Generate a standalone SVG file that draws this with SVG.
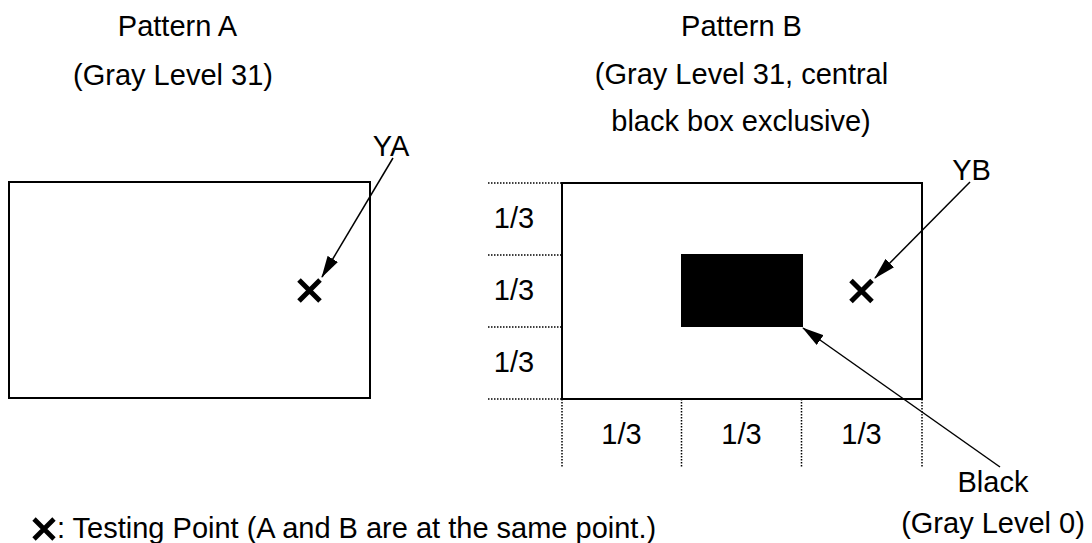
<svg xmlns="http://www.w3.org/2000/svg" xmlns:xlink="http://www.w3.org/1999/xlink" width="1092" height="543" viewBox="0 0 1092 543">
  <style>
    text { font-family: "Liberation Sans", Arial, sans-serif; font-size: 29px; fill: #000; }
    .c { text-anchor: middle; }
    .frame { fill: #fff; stroke: #000; stroke-width: 2; }
    .dot { stroke: #000; stroke-width: 1.5; stroke-dasharray: 1.5 1.5; fill: none; }
    .arrow { stroke: #000; stroke-width: 1.5; fill: none; marker-end: url(#head); }
    .x { stroke: #000; stroke-width: 5; fill: none; }
  </style>
  <defs>
    <marker id="head" markerUnits="userSpaceOnUse" viewBox="0 0 22 12" refX="21" refY="6" markerWidth="22" markerHeight="12" orient="auto">
      <path d="M0,0 L22,6 L0,12 z" fill="#000"/>
    </marker>
    <path id="cross" class="x" d="M-10.5,-10.5 L10.5,10.5 M10.5,-10.5 L-10.5,10.5"/>
  </defs>
  <rect width="1092" height="543" fill="#fff"/>

  <g id="titleA">
    <text class="c" x="177.5" y="36">Pattern A</text>
    <text class="c" x="173" y="85">(Gray Level 31)</text>
  </g>
  <g id="titleB">
    <text class="c" x="741.5" y="36">Pattern B</text>
    <text class="c" x="741.5" y="84">(Gray Level 31, central</text>
    <text class="c" x="741" y="131">black box exclusive)</text>
  </g>

  <g id="patternA">
    <rect class="frame" x="9" y="182" width="361" height="216"/>
    <use xlink:href="#cross" href="#cross" x="309.5" y="290.5"/>
  </g>
  <g id="labelYA">
    <text class="c" x="391" y="156">YA</text>
  </g>

  <g id="patternB">
    <rect class="frame" x="562" y="183" width="360" height="216"/>
    <rect x="681" y="254" width="122" height="73" fill="#000"/>
    <use xlink:href="#cross" href="#cross" x="861.5" y="291"/>
  </g>
  <g id="labelYB">
    <text class="c" x="971.5" y="180">YB</text>
  </g>

  <g id="gridB">
    <line class="dot" x1="488" y1="183" x2="562" y2="183"/>
    <line class="dot" x1="488" y1="255" x2="562" y2="255"/>
    <line class="dot" x1="488" y1="327" x2="562" y2="327"/>
    <line class="dot" x1="488" y1="399" x2="562" y2="399"/>
    <line class="dot" x1="562" y1="399" x2="562" y2="468"/>
    <line class="dot" x1="681.5" y1="399" x2="681.5" y2="468"/>
    <line class="dot" x1="801.5" y1="399" x2="801.5" y2="468"/>
    <line class="dot" x1="922" y1="399" x2="922" y2="468"/>
    <text class="c" x="514" y="228">1/3</text>
    <text class="c" x="514" y="300">1/3</text>
    <text class="c" x="514" y="372">1/3</text>
    <text class="c" x="621.5" y="444">1/3</text>
    <text class="c" x="741.5" y="444">1/3</text>
    <text class="c" x="861.5" y="444">1/3</text>
  </g>

  <g id="labelBlack">
    <text class="c" x="993" y="492">Black</text>
    <text class="c" x="993" y="533">(Gray Level 0)</text>
  </g>

  <g id="legend">
    <use xlink:href="#cross" href="#cross" transform="translate(44,529) scale(0.95)"/>
    <text x="57" y="538">: Testing Point (A and B are at the same point.)</text>
  </g>

  <g id="connectors">
    <line class="arrow" x1="393" y1="158" x2="322" y2="277"/>
    <line class="arrow" x1="970" y1="182" x2="875" y2="278"/>
    <line class="arrow" x1="1000" y1="467" x2="803" y2="328"/>
  </g>
</svg>
